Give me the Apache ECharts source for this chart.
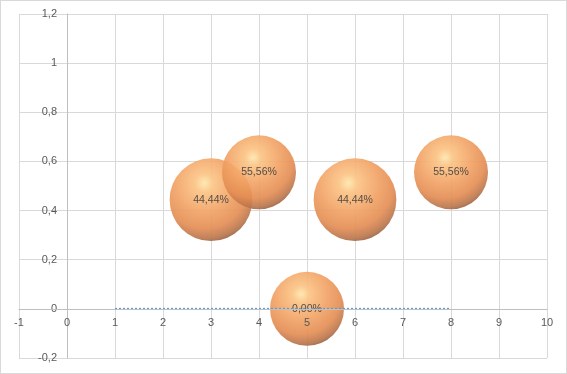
<!DOCTYPE html>
<html><head><meta charset="utf-8">
<script src="https://cdn.jsdelivr.net/npm/echarts@6/dist/echarts.min.js"></script>
<style>html,body{margin:0;padding:0;background:#fff;overflow:hidden}#c{width:567px;height:374px;box-sizing:border-box;border:1px solid #d9d9d9}</style>
</head><body><div id="c"></div>
<script>
var xValues = [3, 4, 5, 6, 8];
var yValues = [0.4444, 0.5556, 0, 0.4444, 0.5556];
var bubbleSizes = [5, 4, 4, 5, 4];
var labels = ['44,44%', '55,56%', '0,00%', '44,44%', '55,56%'];
var lineX = [1, 8];
var lineY = [0, 0];

var bubbleData = xValues.map(function (x, i) { return [x, yValues[i], bubbleSizes[i], labels[i]]; });
var lineData = lineX.map(function (x, i) { return [x, lineY[i]]; });

var fill = new echarts.graphic.RadialGradient(0.42, 0.3, 0.78, [
  {offset: 0, color: '#ffe6ac'},
  {offset: 0.15, color: '#fbc282'},
  {offset: 0.45, color: '#f2a264'},
  {offset: 0.7, color: '#e48c52'},
  {offset: 0.86, color: '#b8744a'},
  {offset: 1, color: '#6e4a3e'}
]);

var W = 565, H = 372;
var G = {left: 18, right: 19, top: 13, bottom: 15};
var xMin = -1, xMax = 10, yMin = -0.2, yMax = 1.2;
var plotW = W - G.left - G.right, plotH = H - G.top - G.bottom;
var xAxisOffset = -plotH * (0 - yMin) / (yMax - yMin);
var yAxisOffset = -plotW * (0 - xMin) / (xMax - xMin);

var chart = echarts.init(document.getElementById('c'));
chart.setOption({
  animation: false,
  grid: {left: G.left, right: G.right, top: G.top, bottom: G.bottom, containLabel: false, outerBoundsMode: 'none'},
  xAxis: [{
    type: 'value', min: xMin, max: xMax, interval: 1, position: 'bottom',
    axisLine: {show: false}, axisTick: {show: false}, axisLabel: {show: false},
    splitLine: {lineStyle: {color: '#d9d9d9'}}, z: 0
  }, {
    type: 'value', min: xMin, max: xMax, interval: 1, position: 'bottom', offset: xAxisOffset,
    axisLine: {show: true, onZero: false, lineStyle: {color: '#bfbfbf'}},
    axisTick: {show: false},
    axisLabel: {color: '#595959', fontFamily: 'Liberation Sans', fontSize: 11, margin: 9},
    splitLine: {show: false}, zlevel: 1, z: 5
  }],
  yAxis: {
    type: 'value', min: yMin, max: yMax, interval: 0.2, position: 'left', offset: yAxisOffset,
    axisLine: {show: true, onZero: false, lineStyle: {color: '#bfbfbf'}},
    axisTick: {show: false},
    axisLabel: {color: '#595959', fontFamily: 'Liberation Sans', fontSize: 11, margin: 10,
      formatter: function (v) { return String(Math.round(v * 10) / 10).replace('.', ','); }},
    splitLine: {lineStyle: {color: '#d9d9d9'}}
  },
  series: [
    {
      type: 'scatter',
      xAxisIndex: 0,
      data: bubbleData,
      symbolSize: function (d) { return 37 * Math.sqrt(d[2]); },
      itemStyle: {color: fill, opacity: 0.9},
      label: {show: true, position: 'inside', formatter: function (p) { return p.data[3]; },
        color: '#404040', fontFamily: 'Liberation Sans', fontSize: 10.5},
      z: 2
    },
    {
      type: 'line',
      xAxisIndex: 0,
      data: lineData,
      symbol: 'none',
      lineStyle: {color: '#5b9bd5', width: 2, type: [2, 2]},
      zlevel: 1, z: 3
    }
  ]
});
</script></body></html>
